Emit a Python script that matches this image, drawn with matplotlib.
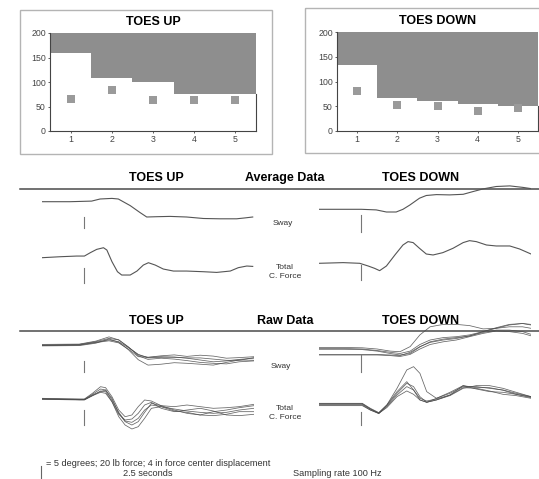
import numpy as np
import matplotlib.pyplot as plt
from matplotlib.patches import Rectangle
from matplotlib.transforms import blended_transform_factory

plt.rcParams['font.family'] = ['Liberation Sans', 'DejaVu Sans']

W, H = 539, 479

# ---- step-limit panels ----
bins = [1, 2, 3, 4, 5]
up_limit = [160, 108, 99, 76, 76]
up_mean = [65, 83, 63, 63, 64]
down_limit = [133, 66, 60, 54, 50]
down_mean = [80, 52, 50, 41, 47]

# ---- traces: time in s, sway in degrees, force in lb ----
EVENT_T = 1.0

avg_t_sway_up = [0, 0.66, 1.17, 1.37, 1.65, 1.8, 2.08, 2.31, 2.47, 2.71, 3.02, 3.41, 3.81, 4.2, 4.59, 4.79, 4.97]
avg_sway_up = [0, 0, 0.2, 0.9, 1.1, 0.9, -1.3, -3.6, -5.1, -5.0, -4.9, -5.1, -5.6, -5.7, -5.7, -5.4, -5.1]

avg_t_force_up = [0, 0.43, 0.82, 1.0, 1.14, 1.29, 1.45, 1.53, 1.65, 1.78, 1.88, 2.08, 2.24, 2.39, 2.51,
                  2.67, 2.86, 3.1, 3.41, 3.81, 4.12, 4.44, 4.63, 4.83, 4.97]
avg_force_up = [0, 1.3, 2.2, 2.2, 6.7, 11.1, 13.3, 10.2, -5.3, -18.7, -23.1, -23.1, -17.8, -9.8, -6.7,
                -9.8, -15.1, -17.8, -17.8, -18.7, -19.6, -17.8, -13.3, -11.1, -11.6]

avg_t_sway_down = [0, 0.57, 1.0, 1.35, 1.59, 1.82, 1.98, 2.14, 2.37, 2.53, 2.77, 3.08, 3.4, 3.63, 3.87,
                   4.18, 4.5, 4.81, 5.0]
avg_sway_down = [0, 0, 0, -0.2, -0.9, -0.9, 0, 1.4, 3.7, 4.6, 4.9, 4.8, 5.0, 5.9, 6.8, 7.6, 7.8, 7.3, 6.9]

avg_t_force_down = [0, 0.57, 0.96, 1.16, 1.31, 1.43, 1.59, 1.79, 1.98, 2.1, 2.22, 2.37, 2.53, 2.69,
                    2.92, 3.16, 3.4, 3.55, 3.71, 3.95, 4.18, 4.5, 4.73, 5.0]
avg_force_down = [0, 0.9, 0, -3.6, -6.7, -9.8, -3.6, 11.1, 24.4, 28.9, 27.6, 20.0, 12.4, 11.1,
                  14.2, 20.0, 27.6, 30.2, 28.9, 24.4, 23.1, 23.1, 19.1, 12.4]

raw_t_sway_up = [0, 0.88, 1.27, 1.58, 1.81, 2.04, 2.27, 2.5, 2.81, 3.12, 3.42, 3.73, 4.04, 4.35, 4.65, 5.0]
raw_sway_up = [
    [-0.2, 0, 0.9, 1.7, 1.1, -0.9, -3.1, -4.3, -4.1, -4.0, -4.4, -5.0, -5.6, -5.3, -4.8, -4.4],
    [0.2, 0.3, 1.3, 2.7, 1.7, -0.7, -3.3, -4.1, -3.6, -3.3, -3.8, -3.4, -3.7, -4.4, -4.2, -3.9],
    [-0.3, -0.2, 0.6, 2.0, 0.9, -1.6, -4.9, -6.7, -6.4, -5.9, -6.1, -6.4, -6.7, -5.8, -5.0, -5.1],
    [0, 0.2, 1.1, 2.2, 1.7, -0.7, -3.6, -4.8, -4.4, -4.7, -5.2, -5.8, -6.1, -6.3, -5.6, -5.3],
    [-0.1, 0, 0.8, 1.4, 0.7, -1.4, -3.9, -4.1, -3.9, -4.1, -4.3, -4.3, -4.7, -5.1, -5.1, -4.2],
]

raw_t_force_up = [0, 0.88, 1.0, 1.19, 1.38, 1.5, 1.65, 1.81, 1.96, 2.12, 2.27, 2.42, 2.58, 2.81, 3.12,
                  3.42, 3.73, 4.04, 4.35, 4.65, 5.0]
raw_force_up = [
    [0, -0.9, -0.9, 5.3, 9.8, 12.0, -1.3, -17.8, -29.3, -31.1, -25.8, -14.7, -8.0, -10.2, -13.3,
     -16.0, -17.8, -19.1, -17.8, -14.7, -12.4],
    [0.9, 0, 0, 7.6, 16.4, 15.1, 3.1, -14.7, -23.6, -21.3, -10.2, -1.3, -2.7, -8.9, -10.2,
     -8.0, -10.2, -12.4, -11.6, -10.2, -7.1],
    [-0.4, -1.3, -1.3, 4.4, 10.7, 9.8, -3.6, -23.6, -34.7, -40.0, -36.9, -25.8, -12.4, -10.2, -16.0,
     -17.8, -21.3, -22.2, -20.4, -16.9, -16.9],
    [0.4, -0.4, -0.4, 6.2, 13.3, 12.0, 0.9, -19.1, -30.2, -34.7, -30.2, -17.8, -5.8, -8.9, -14.7,
     -19.1, -21.3, -16.9, -14.7, -11.6, -8.9],
    [0, -0.9, -0.9, 4.4, 8.9, 7.6, -3.6, -20.4, -28.0, -26.7, -19.1, -8.0, -4.4, -12.4, -16.9,
     -14.7, -12.4, -16.0, -21.3, -22.2, -20.4],
]

raw_t_sway_down = [0, 0.59, 1.02, 1.37, 1.68, 1.91, 2.15, 2.38, 2.62, 2.93, 3.24, 3.55, 3.87, 4.18,
                   4.49, 4.8, 5.0]
raw_sway_down = [
    [1.4, 1.4, 1.3, 0.9, 0.2, 0, 1.7, 5.6, 8.3, 9.1, 9.1, 8.7, 7.6, 7.8, 8.9, 9.4, 9.1],
    [1.1, 1.1, 0.9, 0.4, -0.2, -0.6, 0.2, 2.4, 3.9, 4.7, 5.0, 5.6, 6.7, 8.0, 9.1, 9.4, 8.9],
    [-0.9, -0.9, -0.9, -0.9, -1.1, -1.3, -0.2, 1.7, 3.1, 3.9, 4.4, 5.3, 6.4, 7.2, 7.2, 6.7, 5.8],
    [-1.1, -1.1, -1.1, -1.1, -1.3, -1.6, -0.9, 0.9, 2.4, 3.3, 3.9, 5.0, 6.1, 6.9, 6.7, 6.1, 5.3],
    [0.8, 0.8, 0.7, 0.2, -0.6, -1.1, -0.6, 1.6, 3.3, 4.2, 4.7, 5.2, 6.7, 7.8, 8.3, 8.3, 7.8],
]

raw_t_force_down = [0, 0.59, 1.02, 1.21, 1.41, 1.6, 1.84, 2.07, 2.23, 2.38, 2.54, 2.77, 3.09, 3.4,
                    3.71, 4.02, 4.34, 4.65, 5.0]
raw_force_down = [
    [1.3, 1.3, 1.3, -5.3, -11.1, -0.9, 21.3, 45.8, 50.2, 41.3, 16.9, 8.0, 14.7, 23.6, 23.6, 21.3,
     19.1, 14.7, 10.2],
    [0, 0, 0, -6.2, -12.0, -1.8, 14.7, 28.0, 23.6, 10.2, 2.7, 5.8, 12.4, 24.9, 20.4, 16.9,
     16.0, 13.3, 8.9],
    [-0.9, -0.9, -0.9, -7.6, -12.4, -3.1, 12.4, 23.6, 19.1, 8.0, 4.4, 7.1, 12.4, 22.2, 21.3, 17.8,
     13.3, 11.6, 8.0],
    [-1.8, -1.8, -1.8, -7.6, -12.0, -4.4, 10.2, 17.8, 13.3, 5.8, 2.7, 5.8, 11.6, 21.3, 24.9, 24.9,
     21.3, 16.0, 10.2],
    [0.9, 0.9, 0.9, -6.2, -11.6, -0.9, 16.9, 30.2, 19.1, 5.8, 2.7, 8.0, 16.0, 24.9, 22.2, 22.2,
     18.7, 13.3, 9.8],
]

SWAY_PX_PER_DEG = 3.0
FORCE_PX_PER_LB = 0.75

fig = plt.figure(figsize=(W / 100, H / 100), dpi=100)


def px_axes(x0, y0, x1, y1):
    """Axes placed by pixel box (y measured from the top)."""
    return fig.add_axes([x0 / W, 1 - y1 / H, (x1 - x0) / W, (y1 - y0) / H])


page = px_axes(0, 0, W, H)
page.set_xlim(0, W)
page.set_ylim(H, 0)
page.axis('off')

# panel frames
page.add_patch(Rectangle((20, 10), 252, 144, fill=False, ec='#b4b4b4', lw=1.0))
page.add_patch(Rectangle((305, 8), 240, 145, fill=False, ec='#b4b4b4', lw=1.0))


def bar_panel(box, limits, means, title):
    ax = px_axes(*box)
    tops = [200 - v for v in limits]
    ax.bar(bins, tops, bottom=limits, width=1.0, color='#8e8e8e', lw=0)
    ax.scatter(bins, means, marker='s', s=30, color='#9a9a9a', lw=0, zorder=3)
    ax.set_xlim(0.5, 5.5)
    ax.set_ylim(0, 200)
    ax.set_xticks(bins)
    ax.set_yticks([0, 50, 100, 150, 200])
    ax.tick_params(labelsize=6.3, labelcolor='#444444', colors='#444444',
                   length=1.5, width=0.6, pad=1.5)
    ax.spines['top'].set_visible(False)
    ax.spines['right'].set_bounds(0, limits[-1])
    for s in ('left', 'bottom', 'right'):
        ax.spines[s].set_color('#444444')
        ax.spines[s].set_linewidth(0.8)
    ax.set_title(title, fontsize=9, fontweight='bold', pad=6)
    return ax


bar_panel((50, 33, 256, 131), up_limit, up_mean, 'TOES UP')
bar_panel((337, 32, 538, 131), down_limit, down_mean, 'TOES DOWN')


def trace_axes(x0, x1, y_base, ppu, half=60):
    ax = px_axes(x0, y_base - half, x1, y_base + half)
    ax.set_xlim(0, 5)
    ax.set_ylim(-half / ppu, half / ppu)
    ax.axis('off')
    return ax


def event_tick(ax, y0, y1):
    trans = blended_transform_factory(ax.transData, page.transData)
    ax.plot([EVENT_T, EVENT_T], [y0, y1], transform=trans, color='#777777', lw=0.8, clip_on=False)


def draw_block(x0, x1, sway_base, force_base, sway_mark, force_mark, sway, force, raw=False):
    ax_s = trace_axes(x0, x1, sway_base, SWAY_PX_PER_DEG)
    ax_f = trace_axes(x0, x1, force_base, FORCE_PX_PER_LB)
    style = dict(color='#4a4a4a', lw=0.55, alpha=0.85) if raw else dict(color='#555555', lw=0.8)
    t_s, vals_s = sway
    t_f, vals_f = force
    for v in (vals_s if raw else [vals_s]):
        ax_s.plot(t_s, v, **style)
    for v in (vals_f if raw else [vals_f]):
        ax_f.plot(t_f, v, **style)
    event_tick(ax_s, *sway_mark)
    event_tick(ax_f, *force_mark)


# average data
draw_block(42, 254, 201.7, 257.7, (216.7, 228.3), (268.3, 283.3),
           (avg_t_sway_up, avg_sway_up), (avg_t_force_up, avg_force_up))
draw_block(319, 531, 209.3, 263.3, (215, 231.7), (265, 280),
           (avg_t_sway_down, avg_sway_down), (avg_t_force_down, avg_force_down))

# raw data
draw_block(42, 254, 345, 399, (361, 371.7), (410, 425),
           (raw_t_sway_up, raw_sway_up), (raw_t_force_up, raw_force_up), raw=True)
draw_block(319, 531, 351.7, 404.3, (355, 371.7), (411.7, 425),
           (raw_t_sway_down, raw_sway_down), (raw_t_force_down, raw_force_down), raw=True)

# section headers and rules
for y_rule, y_txt, name in [(188.5, 178, 'Average Data'), (331, 321, 'Raw Data')]:
    page.plot([20, W], [y_rule, y_rule], color='#4a4a4a', lw=1.1)
    page.text(156, y_txt, 'TOES UP', fontsize=9, fontweight='bold', ha='center', va='center')
    page.text(285, y_txt, name, fontsize=9, fontweight='bold', ha='center', va='center')
    page.text(421, y_txt, 'TOES DOWN', fontsize=9, fontweight='bold', ha='center', va='center')

lab = dict(fontsize=6, color='#333333', ha='center', va='center', multialignment='center')
page.text(283, 223, 'Sway', **lab)
page.text(285, 272, 'Total\nC. Force', linespacing=1.25, **lab)
page.text(281, 366, 'Sway', **lab)
page.text(285, 413, 'Total\nC. Force', linespacing=1.25, **lab)

# scale note
page.plot([41, 41], [466, 479], color='#666666', lw=0.8)
note = dict(fontsize=6.6, color='#333333', va='center')
page.text(46, 463, '= 5 degrees; 20 lb force; 4 in force center displacement', **note)
page.text(123, 474, '2.5 seconds', **note)
page.text(293, 474, 'Sampling rate 100 Hz', **note)

fig.savefig('out.png', dpi=100)
